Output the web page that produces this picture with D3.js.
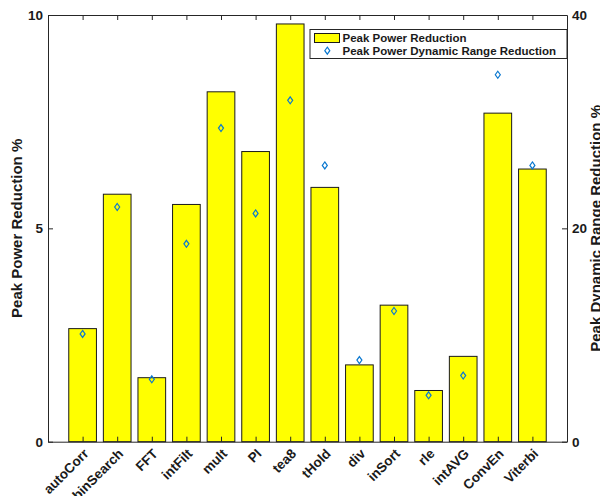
<!DOCTYPE html>
<html>
<head>
<meta charset="utf-8">
<script src="https://cdn.jsdelivr.net/npm/d3@7"></script>
<style>
  html, body { margin: 0; padding: 0; background: #fff; }
  svg { display: block; font-family: "Liberation Sans", Arial, Helvetica, sans-serif; font-weight: bold; }
</style>
</head>
<body>
<svg id="chart" width="600" height="496"></svg>
<script>
// Benchmarks along the x axis
const categories = ["autoCorr", "binSearch", "FFT", "intFilt", "mult", "PI", "tea8",
                    "tHold", "div", "inSort", "rle", "intAVG", "ConvEn", "Viterbi"];
// Peak power reduction (%), left axis
const peakPowerReduction = [2.65, 5.80, 1.50, 5.56, 8.20, 6.80, 9.79,
                            5.96, 1.80, 3.20, 1.20, 2.00, 7.70, 6.39];
// Peak power dynamic range reduction (%), right axis
const dynamicRangeReduction = [10.1, 22.0, 5.85, 18.55, 29.4, 21.4, 32.0,
                               25.9, 7.65, 12.25, 4.35, 6.2, 34.4, 25.9];
const leftTicks = [0, 5, 10];
const rightTicks = [0, 20, 40];
const legendLabels = ["Peak Power Reduction", "Peak Power Dynamic Range Reduction"];

const svg = d3.select("#chart");
const plotLeft = 48, plotRight = 567, plotTop = 15, plotBottom = 441.7;
const axisColor = "#262626";
const barFill = "#ffff00";
const markerColor = "#0a78d0";

const x = d3.scaleLinear().domain([0, categories.length + 1]).range([plotLeft, plotRight]);
const yL = d3.scaleLinear().domain([0, 10]).range([plotBottom, plotTop]);
const yR = d3.scaleLinear().domain([0, 40]).range([plotBottom, plotTop]);
const barW = 0.8;

// Bars
svg.append("g").selectAll("rect")
  .data(peakPowerReduction)
  .join("rect")
  .attr("x", (d, i) => x(i + 1 - barW / 2))
  .attr("width", (d, i) => x(i + 1 + barW / 2) - x(i + 1 - barW / 2))
  .attr("y", d => yL(d))
  .attr("height", d => yL(0) - yL(d))
  .attr("fill", barFill)
  .attr("stroke", "#1a1a1a")
  .attr("stroke-width", 1);

// Diamond markers
const diamond = (cx, cy) => `M${cx},${cy - 3.5}L${cx + 2.5},${cy}L${cx},${cy + 3.5}L${cx - 2.5},${cy}Z`;
svg.append("g").selectAll("path")
  .data(dynamicRangeReduction)
  .join("path")
  .attr("d", (d, i) => diamond(x(i + 1), yR(d)))
  .attr("fill", "none")
  .attr("stroke", markerColor)
  .attr("stroke-width", 1.2);

// Axes
const styleAxis = g => {
  g.select(".domain").attr("stroke", axisColor);
  g.selectAll(".tick line").attr("stroke", axisColor);
  g.selectAll("text").attr("fill", "#1a1a1a").style("font-size", "13.5px").style("font-weight", "bold")
    .style("font-family", "'Liberation Sans', Arial, sans-serif");
};
const xTicks = d3.range(1, categories.length + 1);

svg.append("g").attr("transform", `translate(0,${plotBottom})`)
  .call(d3.axisBottom(x).tickValues(xTicks).tickSizeInner(-5).tickSizeOuter(0)
    .tickFormat(d => categories[d - 1]))
  .call(styleAxis)
  .call(g => g.selectAll("text")
    .attr("text-anchor", "end")
    .attr("x", 0).attr("y", 0).attr("dy", "0.35em")
    .attr("transform", "translate(3,9.5) rotate(-45)"));

svg.append("g").attr("transform", `translate(0,${plotTop})`)
  .call(d3.axisTop(x).tickValues(xTicks).tickSizeInner(-5).tickSizeOuter(0).tickFormat(""))
  .call(styleAxis);

svg.append("g").attr("transform", `translate(${plotLeft},0)`)
  .call(d3.axisLeft(yL).tickValues(leftTicks).tickSizeInner(-5).tickSizeOuter(0).tickPadding(5))
  .call(styleAxis);

svg.append("g").attr("transform", `translate(${plotRight},0)`)
  .call(d3.axisRight(yR).tickValues(rightTicks).tickSizeInner(-5).tickSizeOuter(0).tickPadding(5))
  .call(styleAxis);

// Axis titles
svg.append("text")
  .attr("transform", `translate(22,${(plotTop + plotBottom) / 2}) rotate(-90)`)
  .attr("text-anchor", "middle")
  .attr("fill", "#1a1a1a")
  .style("font-size", "15px")
  .text("Peak Power Reduction %");

svg.append("text")
  .attr("transform", `translate(600.5,${(plotTop + plotBottom) / 2}) rotate(-90)`)
  .attr("text-anchor", "middle")
  .attr("fill", "#1a1a1a")
  .style("font-size", "15px")
  .text("Peak Dynamic Range Reduction %");

// Legend
const lg = svg.append("g");
lg.append("rect")
  .attr("x", 310).attr("y", 29.5).attr("width", plotRight - 310).attr("height", 29)
  .attr("fill", "#fff").attr("stroke", axisColor).attr("stroke-width", 1);
lg.append("rect")
  .attr("x", 314.5).attr("y", 33.5).attr("width", 25).attr("height", 9)
  .attr("fill", barFill).attr("stroke", "#1a1a1a").attr("stroke-width", 1);
lg.append("path")
  .attr("d", diamond(327.3, 50.7))
  .attr("fill", "none").attr("stroke", markerColor).attr("stroke-width", 1.2);
lg.selectAll("text.lbl")
  .data(legendLabels)
  .join("text")
  .attr("class", "lbl")
  .attr("x", 342.5)
  .attr("y", (d, i) => 41.5 + i * 13)
  .attr("fill", "#1a1a1a")
  .style("font-size", "11.5px")
  .text(d => d);
</script>
</body>
</html>
